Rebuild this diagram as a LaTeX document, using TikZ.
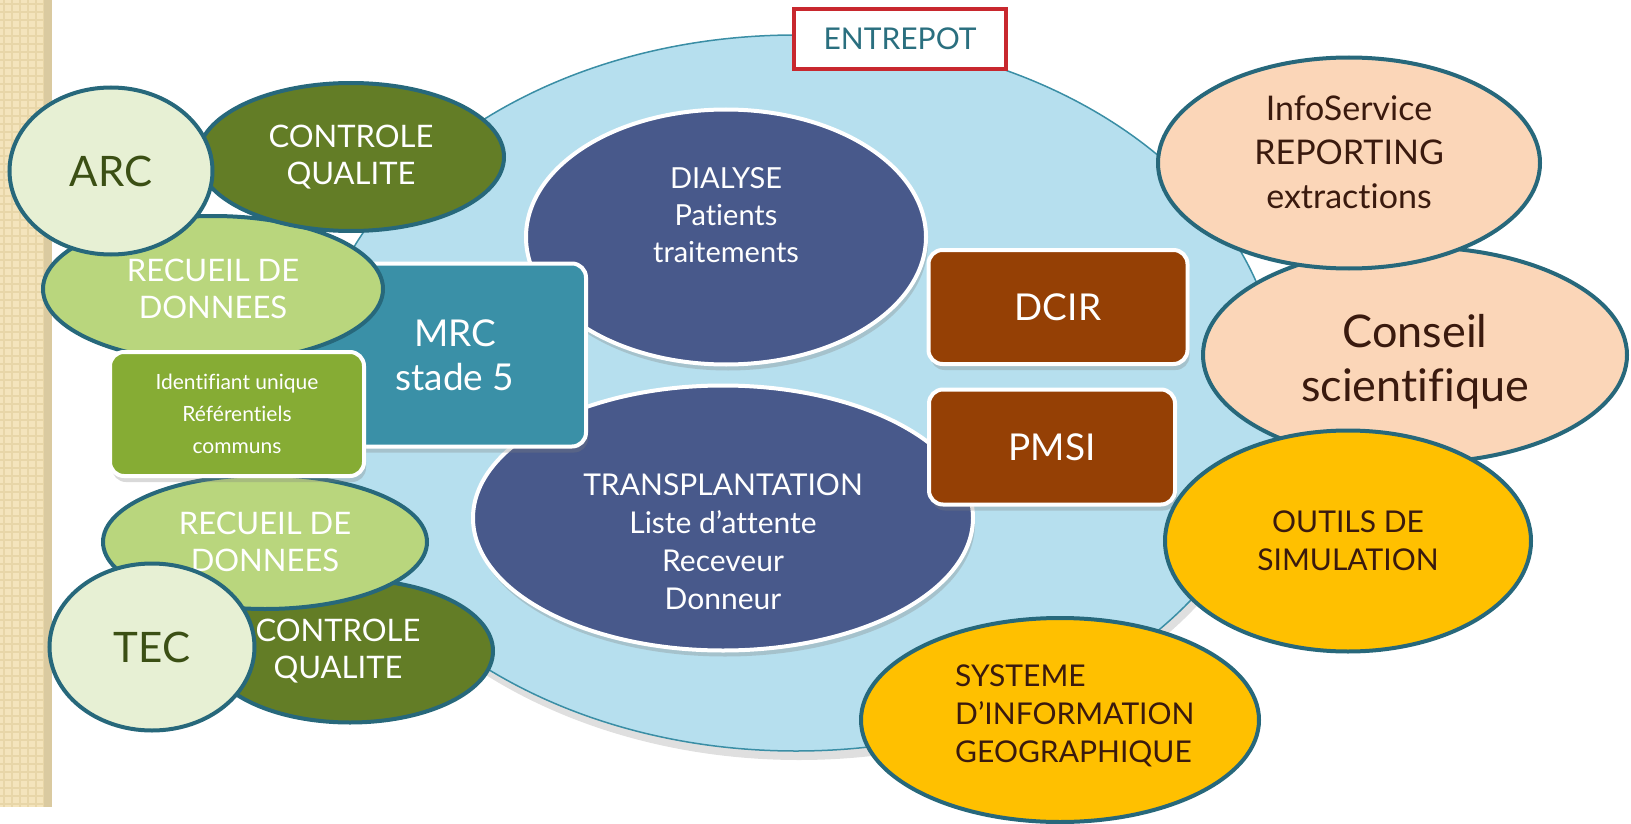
\documentclass[tikz,border=0pt]{standalone}
\usepackage{fontspec}
\setmainfont{Lato}[Ligatures={NoCommon}]
\usetikzlibrary{shapes.geometric,shadows}

\definecolor{strip}{RGB}{244,228,188}
\definecolor{stripline}{RGB}{232,214,168}
\definecolor{stripedge}{RGB}{218,202,160}
\definecolor{lagoon}{RGB}{182,223,238}
\definecolor{lagoonrim}{RGB}{58,142,165}
\definecolor{entred}{RGB}{200,40,46}
\definecolor{entteal}{RGB}{42,111,127}
\definecolor{slate}{RGB}{72,89,139}
\definecolor{mrcteal}{RGB}{58,144,167}
\definecolor{rust}{RGB}{149,64,5}
\definecolor{rimteal}{RGB}{39,104,123}
\definecolor{olive}{RGB}{99,125,38}
\definecolor{recueil}{RGB}{185,214,125}
\definecolor{pale}{RGB}{231,240,212}
\definecolor{darkolive}{RGB}{59,79,20}
\definecolor{leaf}{RGB}{134,172,52}
\definecolor{peach}{RGB}{251,214,184}
\definecolor{amber}{RGB}{255,192,0}
\definecolor{cocoa}{RGB}{58,26,14}

\tikzset{
  rim/.style={ellipse, draw=rimteal, line width=4pt, inner sep=0pt, align=center, text=white},
  core/.style={ellipse, draw=white, line width=4pt, fill=slate, inner sep=0pt,
    drop shadow={shadow xshift=2pt, shadow yshift=-6pt, opacity=0.3}},
  tile/.style={rectangle, rounded corners=14pt, draw=white, line width=4pt, inner sep=0pt,
    align=center, text=white, drop shadow={shadow xshift=2pt, shadow yshift=-6pt, opacity=0.3}},
  txt/.style={align=center, inner sep=0pt, text=white}
}

\begin{document}
\begin{tikzpicture}[x=1pt, y=-1pt]
\useasboundingbox (0,0) rectangle (1631,824);

% side band
\fill[strip] (0,0) rectangle (44,807);
\foreach \k in {4,12,...,804} \draw[stripline, line width=1.5pt] (0,\k) -- (44,\k);
\foreach \k in {4,12,...,44} \draw[stripline, line width=1.5pt] (\k,0) -- (\k,807);
\fill[stripedge] (44,0) rectangle (52,807);

% the warehouse
\node[ellipse, fill=lagoon, draw=lagoonrim, line width=1.5pt, minimum width=968pt, minimum height=716pt,
  drop shadow={shadow xshift=3pt, shadow yshift=-9pt, opacity=0.25}] (entrepot) at (796,393) {};

\node[core, minimum width=400pt, minimum height=255pt] (dialyse) at (726,237) {};
\node[txt, font=\fontsize{29}{37}\selectfont] (dialyseT) at ([yshift=22pt]dialyse.center)
  {DIALYSE\\Patients\\traitements};

\node[core, minimum width=500pt, minimum height=265pt] (transpl) at (723,518) {};
\node[txt, font=\fontsize{30}{38}\selectfont] (transplT) at ([yshift=-24pt]transpl.center)
  {TRANSPLANTATION\\Liste d’attente\\Receveur\\Donneur};

\node[tile, fill=mrcteal, minimum width=274pt, minimum height=183pt,
  font=\fontsize{37}{44}\selectfont] (mrc) at (449,355) {\hspace*{12pt}MRC\\\hspace*{12pt}stade 5};

\node[tile, fill=rust, minimum width=259pt, minimum height=114pt,
  font=\fontsize{37}{42}\selectfont] (dcir) at (1058,307) {DCIR};
\node[tile, fill=rust, minimum width=246pt, minimum height=115pt,
  font=\fontsize{37}{42}\selectfont] (pmsi) at (1052,447) {PMSI};

\node[draw=entred, line width=3.5pt, fill=white, minimum width=212pt, minimum height=60pt,
  text=entteal, font=\fontsize{30}{34}\selectfont] (titre) at (900,39) {ENTREPOT};

% left side: ARC and TEC
\node[rim, fill=recueil, minimum width=340pt, minimum height=146pt,
  font=\fontsize{31}{37}\selectfont] (recueilA) at (213,289) {RECUEIL DE\\DONNEES};
\node[rim, fill=olive, minimum width=306pt, minimum height=148pt,
  font=\fontsize{31}{37}\selectfont] (qualiteA) at (351,157) {CONTROLE\\QUALITE};
\node[rim, fill=pale, text=darkolive, minimum width=203pt, minimum height=167pt,
  font=\fontsize{42}{46}\selectfont] (arc) at (111,171) {ARC};

\node[rim, fill=olive, minimum width=286pt, minimum height=143pt] (qualiteB) at (350,651) {};
\node[txt, font=\fontsize{31}{37}\selectfont] (qualiteBT) at ([xshift=-12pt]qualiteB.center)
  {CONTROLE\\QUALITE};
\node[rim, fill=recueil, minimum width=324pt, minimum height=134pt,
  font=\fontsize{31}{37}\selectfont] (recueilB) at (265,542) {RECUEIL DE\\DONNEES};
\node[rim, fill=pale, text=darkolive, minimum width=205pt, minimum height=167pt,
  font=\fontsize{42}{46}\selectfont] (tec) at (152,647) {TEC};

\node[tile, fill=leaf, minimum width=254pt, minimum height=124pt,
  font=\fontsize{21}{32}\selectfont] (ident) at (237,414) {Identifiant unique\\Référentiels\\communs};

% right side
\node[rim, fill=peach, text=cocoa, minimum width=424pt, minimum height=216pt] (conseil) at (1415,355) {};
\node[txt, text=cocoa, font=\fontsize{45}{54}\selectfont] (conseilT) at ([yshift=-7pt]conseil.center)
  {Conseil\\scientifique};
\node[rim, fill=peach, text=cocoa, minimum width=382pt, minimum height=211pt] (infoserv) at (1349,163) {};
\node[txt, text=cocoa, font=\fontsize{34}{44}\selectfont] (infoservT) at ([yshift=11pt]infoserv.center)
  {InfoService\\REPORTING\\extractions};
\node[rim, fill=amber, text=cocoa, minimum width=366pt, minimum height=221pt,
  font=\fontsize{30}{38}\selectfont] (outils) at (1348,541) {OUTILS DE\\SIMULATION};
\node[rim, fill=amber, minimum width=398pt, minimum height=204pt] (sig) at (1060,720) {};
\node[txt, align=left, anchor=west, text=cocoa, font=\fontsize{30}{38}\selectfont] (sigT) at (955,716)
  {SYSTEME\\D’INFORMATION\\GEOGRAPHIQUE};
\end{tikzpicture}
\end{document}
